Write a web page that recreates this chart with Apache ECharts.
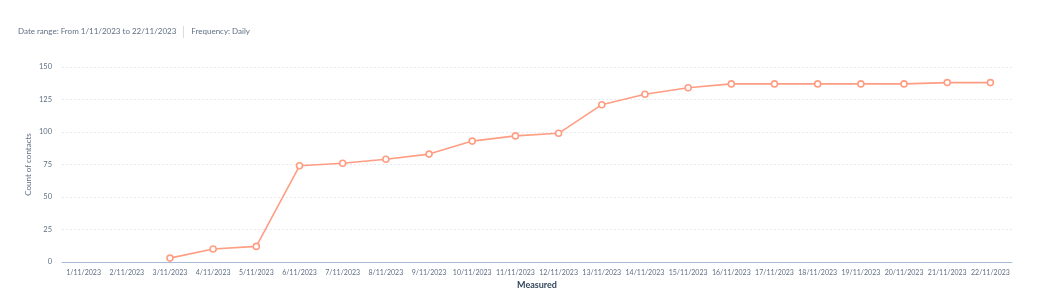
<!DOCTYPE html>
<html><head><meta charset="utf-8">
<script src="https://cdn.jsdelivr.net/npm/echarts@6/dist/echarts.min.js"></script>
<style>
html,body{margin:0;padding:0;background:#fff;width:1040px;height:292px;overflow:hidden;font-family:Lato,"Noto Sans",sans-serif}
#hdr{position:absolute;left:18px;top:26px;font-size:8px;color:#5f6f84;white-space:nowrap}
#hdr .sep{display:inline-block;width:1px;height:12px;background:#d5dde6;vertical-align:middle;margin:0 7px 0 7px}
#c{position:absolute;left:0;top:0;width:1040px;height:292px}
</style></head><body>
<div id="c"></div>
<div id="hdr">Date range: From 1/11/2023 to 22/11/2023<span class="sep"></span>Frequency: Daily</div>
<script>
const categories = ["1/11/2023","2/11/2023","3/11/2023","4/11/2023","5/11/2023","6/11/2023","7/11/2023","8/11/2023","9/11/2023","10/11/2023","11/11/2023","12/11/2023","13/11/2023","14/11/2023","15/11/2023","16/11/2023","17/11/2023","18/11/2023","19/11/2023","20/11/2023","21/11/2023","22/11/2023"];
const contacts = [null,null,3,10,12,74,76,79,83,93,97,99,121,129,134,137,137,137,137,137,138,138];
const chart = echarts.init(document.getElementById('c'), null, {renderer:'canvas'});
chart.setOption({
  animation:false,
  textStyle:{fontFamily:'Lato, "Noto Sans", sans-serif'},
  grid:{left:62,right:28,top:67,bottom:30,containLabel:false,outerBoundsMode:'none'},
  xAxis:{
    type:'category', data:categories, boundaryGap:true,
    name:'Measured', nameLocation:'middle', nameGap:18,
    nameTextStyle:{fontSize:9,fontWeight:'bold',color:'#33475b'},
    axisLine:{lineStyle:{color:'#a9bcd3',width:1}},
    axisTick:{show:false},
    axisLabel:{fontSize:7,color:'#5f6f84',interval:0,margin:7}
  },
  yAxis:{
    type:'value', min:0, max:150, interval:25,
    name:'Count of contacts', nameLocation:'middle', nameGap:30, nameMoveOverlap:false,
    nameTextStyle:{fontSize:8,color:'#5f6f84'},
    axisLine:{show:false}, axisTick:{show:false},
    axisLabel:{fontSize:7.5,color:'#5f6f84',margin:10},
    splitLine:{lineStyle:{color:'#e5eaf1',type:[2,2],width:1}}
  },
  series:[{
    type:'line', data:contacts,
    symbol:'circle', symbolSize:6, showSymbol:true,
    lineStyle:{color:'#ff9d83',width:1.6},
    itemStyle:{color:'#ffffff',borderColor:'#ff9d83',borderWidth:1.6},
    connectNulls:false
  }]
});
</script>
</body></html>
